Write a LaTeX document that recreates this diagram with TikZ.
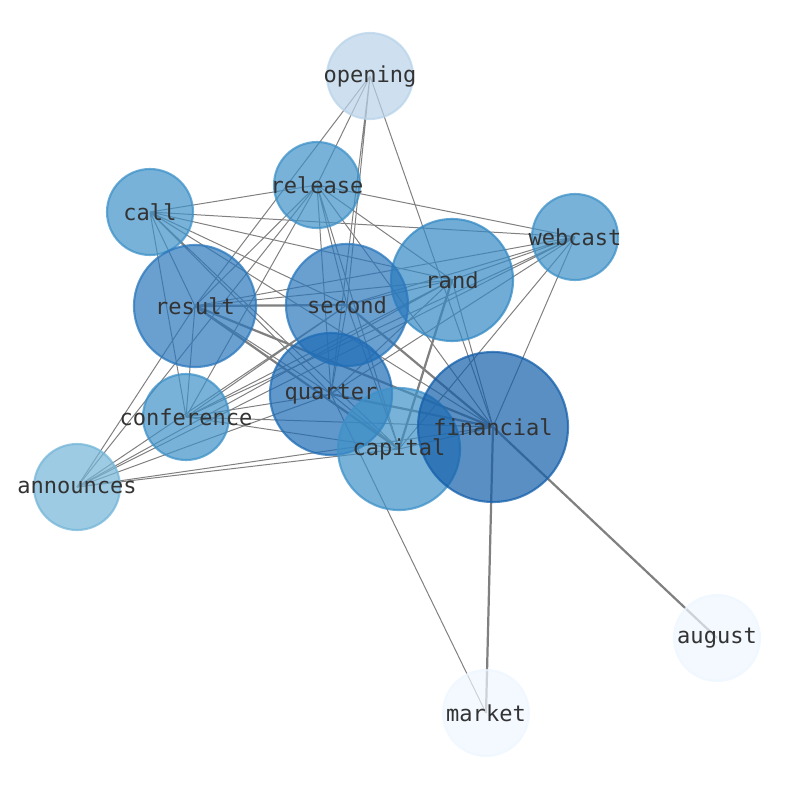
\documentclass[tikz,border=0pt]{standalone}
\usepackage{fontspec}
\newfontfamily\labelfont{DejaVu Sans Mono}

\definecolor{blueOpening}{RGB}{185,211,233}
\definecolor{blueMid}{RGB}{62,145,200}
\definecolor{blueMidDark}{RGB}{52,137,196}
\definecolor{blueDark}{RGB}{42,119,188}
\definecolor{blueDarker}{RGB}{30,108,182}
\definecolor{blueDeep}{RGB}{20,95,170}
\definecolor{blueAnnounces}{RGB}{116,181,216}
\definecolor{bluePale}{RGB}{238,246,255}

\begin{document}
\begin{tikzpicture}
            [x=0.03cm, y=-0.03cm,
            wordNode/.style={circle,
                        draw=#1,
                        fill=#1,
                        fill opacity=0.7,
                        draw opacity=0.75,
                        line width=1.8pt,
                        inner sep=0pt},
            wordText/.style={text=black!80,
                        text opacity=1,
                        inner sep=0pt,
                        font=\labelfont\fontsize{18.8}{20}\selectfont},
            smallWord/.style={wordNode=#1, minimum size=2.58cm},
            midWord/.style={wordNode=#1, minimum size=3.66cm},
            bigWord/.style={wordNode=#1, minimum size=4.5cm},
            thinEdge/.style={draw=black!50, line width=0.85pt},
            thickEdge/.style={draw=black!50, line width=1.9pt}]

            \useasboundingbox (0,0) rectangle (794,790);

            % positions of the words
            \coordinate (opening) at (370,76);
            \coordinate (release) at (317,185);
            \coordinate (call) at (150,212);
            \coordinate (webcast) at (575,237);
            \coordinate (rand) at (452,280);
            \coordinate (result) at (195,306);
            \coordinate (second) at (347,305);
            \coordinate (quarter) at (331,394);
            \coordinate (conference) at (186,417);
            \coordinate (financial) at (493,427);
            \coordinate (capital) at (399,449);
            \coordinate (announces) at (77,487);
            \coordinate (august) at (717,638);
            \coordinate (market) at (486,713);

            \draw [thinEdge] (opening) -- (release) (opening) -- (result) (opening) -- (second) (opening) -- (quarter) (opening) -- (financial);
            \draw [thinEdge] (release) -- (call) (release) -- (webcast) (release) -- (announces) (release) -- (result) (release) -- (second) (release) -- (quarter) (release) -- (capital) (release) -- (financial) (release) -- (rand) (release) -- (conference);
            \draw [thinEdge] (call) -- (webcast) (call) -- (rand) (call) -- (second) (call) -- (quarter) (call) -- (financial) (call) -- (capital) (call) -- (result) (call) -- (conference);
            \draw [thinEdge] (webcast) -- (rand) (webcast) -- (result) (webcast) -- (second) (webcast) -- (quarter) (webcast) -- (conference) (webcast) -- (announces) (webcast) -- (financial) (webcast) -- (capital);
            \draw [thinEdge] (rand) -- (result) (rand) -- (second) (rand) -- (quarter) (rand) -- (conference) (rand) -- (announces) (rand) -- (financial);
            \draw [thinEdge] (result) -- (quarter) (result) -- (conference) (result) -- (announces);
            \draw [thinEdge] (second) -- (quarter) (second) -- (capital) (second) -- (conference) (second) -- (announces);
            \draw [thinEdge] (quarter) -- (capital) (quarter) -- (conference) (quarter) -- (announces) (quarter) -- (market);
            \draw [thinEdge] (financial) -- (capital) (financial) -- (conference) (financial) -- (announces);
            \draw [thinEdge] (capital) -- (conference) (capital) -- (announces);

            \draw [thickEdge] (rand) -- (capital);
            \draw [thickEdge] (result) -- (second);
            \draw [thickEdge] (result) -- (financial);
            \draw [thickEdge] (result) -- (capital);
            \draw [thickEdge] (second) -- (financial);
            \draw [thickEdge] (quarter) -- (financial);
            \draw [thickEdge] (financial) -- (market);
            \draw [thickEdge] (financial) -- (august);

            % circles first, words on top
            \node[smallWord=blueOpening] (openingNode) at (opening) {};
            \node[smallWord=blueMid] (releaseNode) at (release) {};
            \node[smallWord=blueMid] (callNode) at (call) {};
            \node[smallWord=blueMid] (webcastNode) at (webcast) {};
            \node[midWord=blueMidDark] (randNode) at (rand) {};
            \node[midWord=blueDark] (resultNode) at (result) {};
            \node[midWord=blueDark] (secondNode) at (second) {};
            \node[midWord=blueDarker] (quarterNode) at (quarter) {};
            \node[smallWord=blueMid] (conferenceNode) at (conference) {};
            \node[midWord=blueMid] (capitalNode) at (capital) {};
            \node[bigWord=blueDeep] (financialNode) at (financial) {};
            \node[smallWord=blueAnnounces] (announcesNode) at (announces) {};
            \node[smallWord=bluePale] (augustNode) at (august) {};
            \node[smallWord=bluePale] (marketNode) at (market) {};

            \node[wordText] (openingText) at (openingNode) {opening};
            \node[wordText] (releaseText) at (releaseNode) {release};
            \node[wordText] (callText) at (callNode) {call};
            \node[wordText] (webcastText) at (webcastNode) {webcast};
            \node[wordText] (randText) at (randNode) {rand};
            \node[wordText] (resultText) at (resultNode) {result};
            \node[wordText] (secondText) at (secondNode) {second};
            \node[wordText] (quarterText) at (quarterNode) {quarter};
            \node[wordText] (conferenceText) at (conferenceNode) {conference};
            \node[wordText] (capitalText) at (capitalNode) {capital};
            \node[wordText] (financialText) at (financialNode) {financial};
            \node[wordText] (announcesText) at (announcesNode) {announces};
            \node[wordText] (augustText) at (augustNode) {august};
            \node[wordText] (marketText) at (marketNode) {market};
        \end{tikzpicture}
\end{document}
